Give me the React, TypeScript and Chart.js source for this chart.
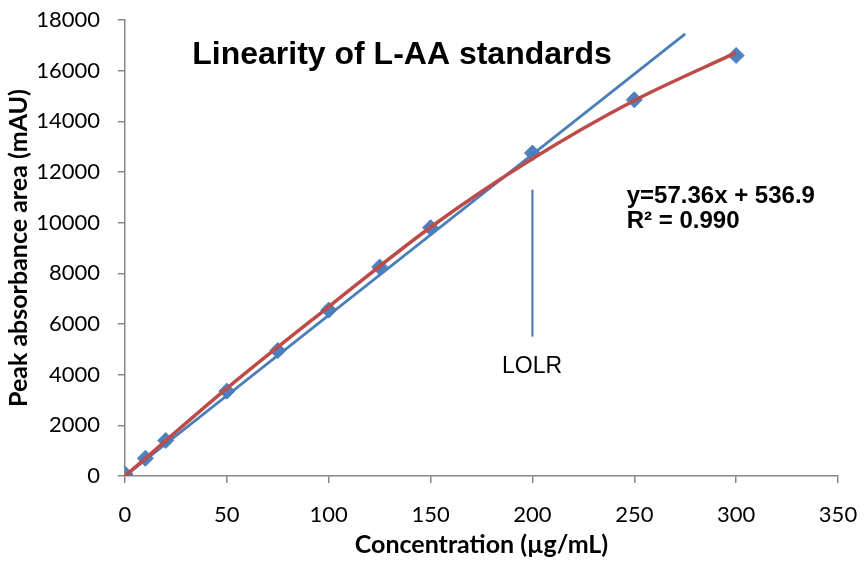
import React, { useEffect, useRef } from "react";
import { Chart, registerables } from "chart.js";

Chart.register(...registerables);

// Measured standards
const concentrations = [0, 10, 20, 50, 75, 100, 125, 150, 200, 250, 300];
const peakAreas = [80, 700, 1400, 3350, 4950, 6550, 8250, 9800, 12750, 14850, 16600];

// Linear trendline (drawn segment)
const linearTrendX = [0, 275];
const linearTrendY = [0, 17450];

// Polynomial trendline (read at these concentrations)
const polyTrendX = [0, 50, 100, 150, 200, 250, 300];
const polyTrendY = [0, 3460, 6680, 9820, 12520, 14820, 16710];

// LOLR marker line
const lolrX = [200, 200];
const lolrY = [5500, 11300];

// Axis ticks
const xTicks = [0, 50, 100, 150, 200, 250, 300, 350];
const yTicks = [0, 2000, 4000, 6000, 8000, 10000, 12000, 14000, 16000, 18000];

// Texts
const chartTitle = "Linearity of L-AA standards";
const equationLine1 = "y=57.36x + 536.9";
const equationLine2 = "R\u00B2 = 0.990";
const lolrLabel = "LOLR";
const xTitle = "Concentration (\u00B5g/mL)";
const yTitle = "Peak absorbance area (mAU)";

// Text anchors (data coordinates)
const titleAnchor = { x: 33.0, y: 16280 };
const eqAnchor1 = { x: 246.3, y: 10765 };
const eqAnchor2 = { x: 246.3, y: 9778 };
const lolrAnchor = { x: 199.8, y: 4054 };

const toXY = (xs: number[], ys: number[]) => xs.map((x, i) => ({ x, y: ys[i] }));

const textPlugin = {
  id: "textAnnotations",
  afterDatasetsDraw(chart: any) {
    const { ctx } = chart;
    const xs = chart.scales.x;
    const ys = chart.scales.y;
    ctx.save();
    ctx.fillStyle = "#000000";
    ctx.textBaseline = "alphabetic";
    ctx.textAlign = "left";
    ctx.font = 'bold 32px "Liberation Sans", Arial, sans-serif';
    ctx.fillText(chartTitle, xs.getPixelForValue(titleAnchor.x), ys.getPixelForValue(titleAnchor.y));
    ctx.font = 'bold 24px "Liberation Sans", Arial, sans-serif';
    ctx.fillText(equationLine1, xs.getPixelForValue(eqAnchor1.x), ys.getPixelForValue(eqAnchor1.y));
    ctx.fillText(equationLine2, xs.getPixelForValue(eqAnchor2.x), ys.getPixelForValue(eqAnchor2.y));
    ctx.font = '23px "Liberation Sans", Arial, sans-serif';
    ctx.textAlign = "center";
    ctx.fillText(lolrLabel, xs.getPixelForValue(lolrAnchor.x), ys.getPixelForValue(lolrAnchor.y));
    ctx.restore();
  },
};

const zeroOverhang = (s: any) => {
  s.paddingTop = 0;
  s.paddingBottom = 0;
  s.paddingLeft = 0;
  s.paddingRight = 0;
};

export default function App() {
  const canvasRef = useRef<HTMLCanvasElement | null>(null);

  useEffect(() => {
    if (!canvasRef.current) return;
    const axisColor = "#868686";
    const chart = new Chart(canvasRef.current, {
      type: "scatter",
      data: {
        datasets: [
          {
            label: "poly",
            data: toXY(polyTrendX, polyTrendY),
            showLine: true,
            borderColor: "#BE4B48",
            borderWidth: 3.5,
            pointRadius: 0,
            cubicInterpolationMode: "monotone",
            order: 0,
          },
          {
            label: "linear",
            data: toXY(linearTrendX, linearTrendY),
            showLine: true,
            borderColor: "#4A7EBB",
            borderWidth: 2.8,
            pointRadius: 0,
            order: 1,
          },
          {
            label: "lolr",
            data: toXY(lolrX, lolrY),
            showLine: true,
            borderColor: "#4A7EBB",
            borderWidth: 2.2,
            pointRadius: 0,
            order: 2,
          },
          {
            label: "standards",
            data: toXY(concentrations, peakAreas),
            showLine: false,
            pointStyle: "rectRot",
            pointRadius: 8,
            pointBackgroundColor: "#4F81BD",
            pointBorderColor: "#4F81BD",
            pointBorderWidth: 1,
            order: 3,
          },
        ] as any,
      },
      options: {
        animation: false,
        responsive: true,
        maintainAspectRatio: false,
        layout: { padding: { top: 20, right: 26, left: 0, bottom: 0 } },
        plugins: {
          legend: { display: false },
          tooltip: { enabled: false },
          title: { display: false },
        },
        scales: {
          x: {
            type: "linear",
            min: 0,
            max: 350,
            afterFit: (s: any) => {
              s.height = 87;
              zeroOverhang(s);
            },
            afterBuildTicks: (s: any) => {
              s.ticks = xTicks.map((v) => ({ value: v }));
            },
            ticks: {
              color: "#000000",
              padding: 19,
              font: { family: "Lato", size: 22 },
              callback: (v: any) => String(v),
            },
            grid: {
              display: true,
              drawOnChartArea: false,
              drawTicks: true,
              tickLength: 7,
              color: axisColor,
              lineWidth: 1.5,
            },
            border: { display: true, color: axisColor, width: 1.5 },
            title: {
              display: true,
              text: xTitle,
              color: "#000000",
              font: { family: "Lato", size: 25, weight: "bold" },
              padding: { top: 0, bottom: 3 },
            },
          },
          y: {
            type: "linear",
            min: 0,
            max: 18000,
            afterFit: (s: any) => {
              s.width = 125;
              zeroOverhang(s);
            },
            afterBuildTicks: (s: any) => {
              s.ticks = yTicks.map((v) => ({ value: v }));
            },
            ticks: {
              color: "#000000",
              padding: 18,
              font: { family: "Lato", size: 22 },
              callback: (v: any) => String(v),
            },
            grid: {
              display: true,
              drawOnChartArea: false,
              drawTicks: true,
              tickLength: 7,
              color: axisColor,
              lineWidth: 1.5,
            },
            border: { display: true, color: axisColor, width: 1.5 },
            title: {
              display: true,
              text: yTitle,
              color: "#000000",
              font: { family: "Lato", size: 25, weight: "bold" },
              padding: { top: 4, bottom: 0 },
            },
          },
        },
      } as any,
      plugins: [textPlugin],
    });
    return () => chart.destroy();
  }, []);

  return (
    <div style={{ position: "absolute", left: 0, top: 0, width: 864, height: 563, background: "#ffffff" }}>
      <canvas ref={canvasRef} />
    </div>
  );
}
